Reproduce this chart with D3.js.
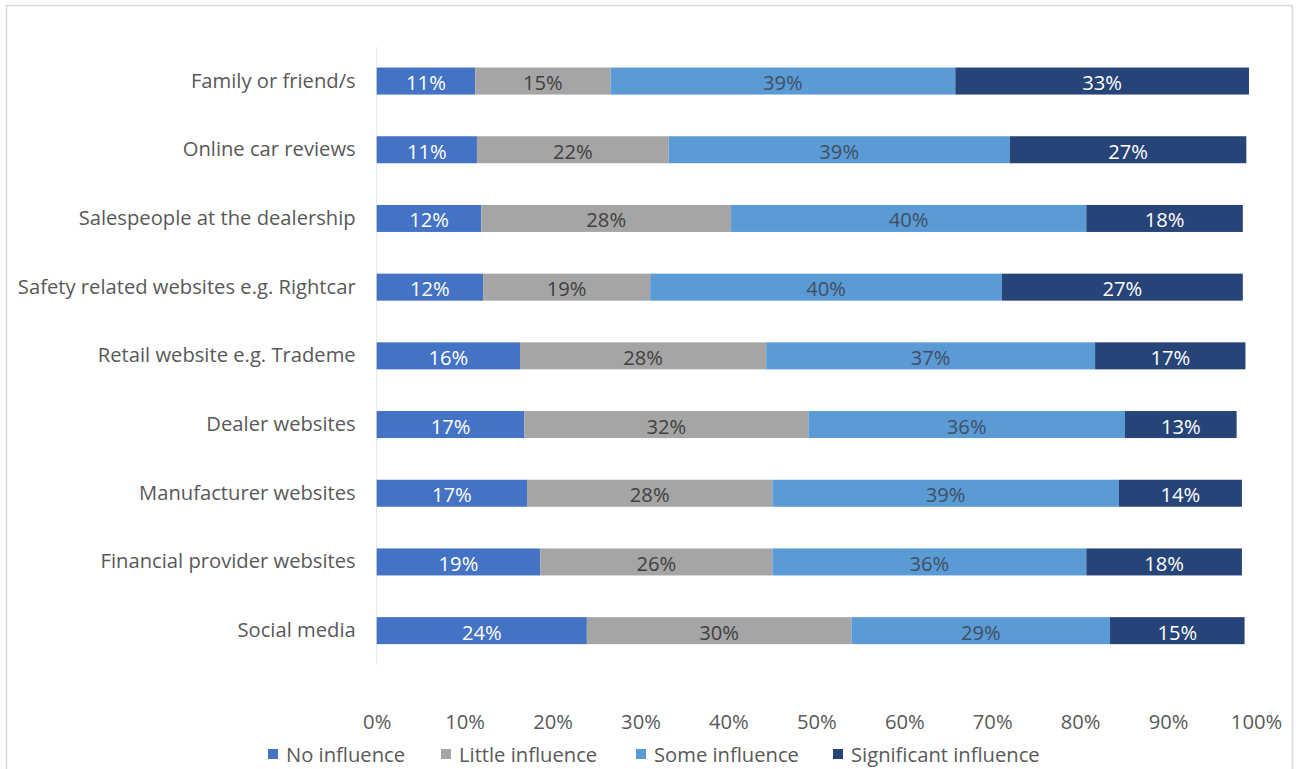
<!DOCTYPE html>
<html>
<head>
<meta charset="utf-8">
<script src="https://cdn.jsdelivr.net/npm/d3@7"></script>
<style>
  html, body { margin: 0; padding: 0; background: #fff; }
  svg { display: block; }
  text { font-family: "Open Sans", Lato, sans-serif; }
</style>
</head>
<body>
<svg id="chart" width="1297" height="769"></svg>
<script>
const categories = [
  "Family or friend/s",
  "Online car reviews",
  "Salespeople at the dealership",
  "Safety related websites e.g. Rightcar",
  "Retail website e.g. Trademe",
  "Dealer websites",
  "Manufacturer websites",
  "Financial provider websites",
  "Social media"
];
const seriesNames = ["No influence", "Little influence", "Some influence", "Significant influence"];
const noInfluence          = [11.2, 11.4, 11.9, 12.1, 16.3, 16.8, 17.1, 18.6, 23.9];
const littleInfluence      = [15.4, 21.8, 28.4, 19.0, 28.0, 32.3, 27.9, 26.4, 30.1];
const someInfluence        = [39.2, 38.8, 40.4, 40.0, 37.4, 36.0, 39.4, 35.7, 29.4];
const significantInfluence = [33.4, 26.9, 17.8, 27.4, 17.1, 12.7, 14.0, 17.7, 15.3];
const tickValues = [0, 10, 20, 30, 40, 50, 60, 70, 80, 90, 100];

const colors = ["#4472C4", "#A5A5A5", "#5B9BD5", "#264478"];
const labelColors = ["#ffffff", "#404040", "#3f4f63", "#ffffff"];

const rows = categories.map((c, i) => ({
  category: c,
  "No influence": noInfluence[i],
  "Little influence": littleInfluence[i],
  "Some influence": someInfluence[i],
  "Significant influence": significantInfluence[i]
}));

const FONT = 20.2;
const svg = d3.select("#chart");

// outer frame
svg.append("rect")
  .attr("x", 6.5).attr("y", 5.5)
  .attr("width", 1286).attr("height", 780)
  .attr("fill", "none").attr("stroke", "#d9d9d9").attr("stroke-width", 1.5);

const x = d3.scaleLinear().domain([0, 100]).range([376.7, 1256]);
const y = d3.scaleBand().domain(categories).range([46.7, 665]).paddingInner(0.607).paddingOuter(0.3035);

const stacked = d3.stack().keys(seriesNames)(rows);

// left axis line
svg.append("line")
  .attr("x1", x(0)).attr("x2", x(0))
  .attr("y1", 46.7).attr("y2", 665)
  .attr("stroke", "#e6e6e6").attr("stroke-width", 1);

const fmt = d3.format(".0f");

stacked.forEach((layer, si) => {
  const g = svg.append("g");
  g.selectAll("rect").data(layer).join("rect")
    .attr("x", d => x(d[0]))
    .attr("y", d => y(d.data.category))
    .attr("width", d => x(d[1]) - x(d[0]))
    .attr("height", y.bandwidth())
    .attr("fill", colors[si]);
  g.selectAll("text").data(layer).join("text")
    .attr("x", d => (x(d[0]) + x(d[1])) / 2)
    .attr("y", d => y(d.data.category) + y.bandwidth() / 2 + 1)
    .attr("text-anchor", "middle")
    .attr("dominant-baseline", "central")
    .attr("font-size", FONT)
    .attr("fill", labelColors[si])
    .text(d => fmt(d[1] - d[0]) + "%");
});

// category axis labels
const yAxis = d3.axisLeft(y).tickSize(0).tickPadding(21);
const yg = svg.append("g").attr("transform", `translate(${x(0)},0)`).call(yAxis);
yg.select(".domain").remove();
yg.selectAll("text")
  .attr("font-family", "'Open Sans', Lato, sans-serif")
  .attr("font-size", FONT)
  .attr("fill", "#595959");

// x axis tick labels
const xAxis = d3.axisBottom(x).tickValues(tickValues).tickSize(0).tickPadding(0).tickFormat(d => d + "%");
const xg = svg.append("g").attr("transform", `translate(0,722)`).call(xAxis);
xg.select(".domain").remove();
xg.selectAll("text")
  .attr("dy", "0.35em")
  .attr("y", 0)
  .attr("font-family", "'Open Sans', Lato, sans-serif")
  .attr("font-size", FONT)
  .attr("fill", "#595959");

// legend
const legendX = [268, 441, 636, 833];
const lg = svg.append("g");
seriesNames.forEach((name, i) => {
  lg.append("rect")
    .attr("x", legendX[i]).attr("y", 749)
    .attr("width", 10).attr("height", 10)
    .attr("fill", colors[i]);
  lg.append("text")
    .attr("x", legendX[i] + 18).attr("y", 754)
    .attr("dominant-baseline", "central")
    .attr("font-size", FONT)
    .attr("fill", "#595959")
    .text(name);
});
</script>
</body>
</html>
